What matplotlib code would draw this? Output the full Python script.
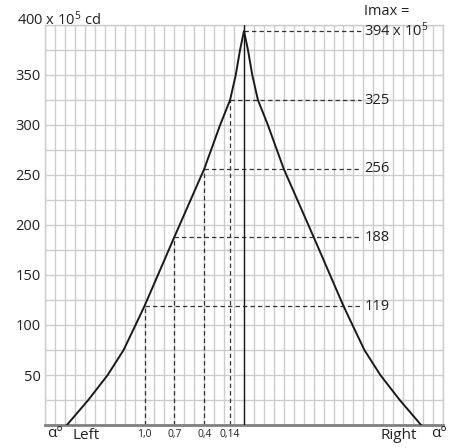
import matplotlib
matplotlib.use("Agg")
import matplotlib.pyplot as plt
import numpy as np

plt.rcParams['font.family'] = ['Open Sans', 'DejaVu Sans']
plt.rcParams['mathtext.fontset'] = 'custom'
plt.rcParams['mathtext.rm'] = 'Open Sans'
plt.rcParams['mathtext.it'] = 'Open Sans'
plt.rcParams['mathtext.bf'] = 'Open Sans'

# left half of the beam profile (angle in degrees, intensity x 10^5 cd)
left_angle = [-1.78, -1.565, -1.37, -1.21, -1.09, -1.0, -0.865, -0.7,
              -0.4, -0.24, -0.14, -0.083, -0.04, 0.0]
left_value = [0, 25, 50, 75, 100, 119, 150, 188, 256, 300, 325, 350, 375, 394]

# marked levels
mark_angle = [-1.0, -0.7, -0.4, -0.14]
mark_value = [119, 188, 256, 325]
mark_text = ["1,0", "0,7", "0,4", "0,14"]
imax = 394

yticks = [50, 100, 150, 200, 250, 300, 350]

# symmetric right half
angle = left_angle + [-a for a in left_angle[::-1][1:]]
value = left_value + left_value[::-1][1:]

fig = plt.figure(figsize=(4.6, 4.48), dpi=100)
ax = fig.add_axes([45/460, 23/448, 398/460, 400/448])
ax.set_xlim(-2, 2)
ax.set_ylim(0, 400)

gc = '#cccccc'
for x in np.arange(-20, 21) / 10:
    ax.axvline(x, color=gc, lw=1.0, zorder=0)
for y in range(0, 401, 25):
    ax.axhline(y, color=gc, lw=1.0, zorder=0)

for s in ['left', 'right', 'top']:
    ax.spines[s].set_color(gc)
    ax.spines[s].set_linewidth(1.0)
ax.spines['bottom'].set_color('#808080')
ax.spines['bottom'].set_linewidth(2.0)

ax.plot(angle, value, color='#1a1a1a', lw=1.4, zorder=3)
ax.plot([0, 0], [0, 400], color='#1a1a1a', lw=1.0, zorder=3)

xend = 1.18
dash = dict(color='#333333', lw=0.9, ls=(0, (3.5, 2.5)), zorder=2)
for a, v in zip(mark_angle, mark_value):
    ax.plot([a, a], [0, v], **dash)
    ax.plot([a, xend], [v, v], **dash)
ax.plot([0, xend], [imax, imax], **dash)

ax.set_xticks([])
ax.set_yticks(yticks)
ax.set_yticklabels([str(t) for t in yticks])
ax.tick_params(axis='y', length=0, pad=3, labelsize=10.5, labelcolor='#222222')

tc = '#222222'
for a, v, t in zip(mark_angle, mark_value, mark_text):
    ax.text(xend + 0.03, v, str(v), ha='left', va='center', fontsize=10.5, color=tc)
    ax.text(a, -4, t, ha='center', va='top', fontsize=7.5, color=tc)
ax.text(xend + 0.03, imax, "394 x 10$^{5}$", ha='left', va='center', fontsize=10.5, color=tc)
ax.text(xend + 0.03, 406, "Imax =", ha='left', va='bottom', fontsize=10.5, color=tc)
fig.text(17/460, 1 - 25/448, "400 x 10$^{5}$ cd", ha='left', va='baseline', fontsize=10.5, color=tc)

ax.text(-1.98, -1, "α°", ha='left', va='top', fontsize=11, color=tc)
ax.text(-1.59, -3, "Left", ha='center', va='top', fontsize=11, color=tc)
ax.text(1.56, -3, "Right", ha='center', va='top', fontsize=11, color=tc)
ax.text(1.88, -1, "α°", ha='left', va='top', fontsize=11, color=tc)

fig.savefig("out.png", dpi=100)
